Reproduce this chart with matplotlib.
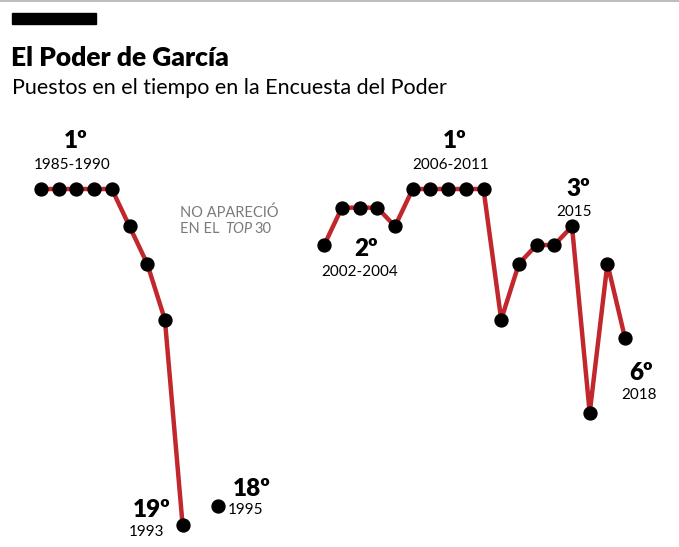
import matplotlib
matplotlib.use("Agg")
import matplotlib.pyplot as plt
from matplotlib.patches import Rectangle
from matplotlib.lines import Line2D

# Ranking of García in the "Encuesta del Poder" (1 = first place)
years_early = [1985, 1986, 1987, 1988, 1989, 1990, 1991, 1992, 1993]
rank_early = [1, 1, 1, 1, 1, 3, 5, 8, 19]
years_lone = [1995]
rank_lone = [18]
years_late = [2001, 2002, 2003, 2004, 2005, 2006, 2007, 2008, 2009, 2010,
              2011, 2012, 2013, 2014, 2015, 2016, 2017, 2018]
rank_late = [4, 2, 2, 2, 3, 1, 1, 1, 1, 1, 8, 5, 4, 4, 3, 13, 5, 9]

title = "El Poder de García"
subtitle = "Puestos en el tiempo en la Encuesta del Poder"

RED = "#c1272d"
GRAY = "#7a7a7a"
W, H = 679, 547

fig = plt.figure(figsize=(W / 100, H / 100), dpi=100)
ax = fig.add_axes([0, 0, 1, 1])
ax.set_axis_off()

# pixel mapping: x = 41 + (year-1985)*17.7 ; y = 189 + (rank-1)*18.67
xs, ys = 17.7, 18.67
ax.set_xlim(1985 - 41 / xs, 1985 + (W - 41) / xs)
ax.set_ylim(1 + (H - 189) / ys, 1 - 189 / ys)


def px(x, y):
    return x / W, 1 - y / H


line_kw = dict(color=RED, lw=3.2, marker="o", markersize=9.3,
               markerfacecolor="black", markeredgecolor="black", zorder=2)
ax.plot(years_early, rank_early, **line_kw)
ax.plot(years_late, rank_late, **line_kw)
ax.plot(years_lone, rank_lone, "o", color="black", markersize=9.3, zorder=3)

# header
fig.add_artist(Line2D([0, 1], [1 - 0.5 / H, 1 - 0.5 / H], color="#b0b0b0", lw=1.2))
x0, y0 = px(12, 24)
fig.add_artist(Rectangle((x0, y0), 84 / W, 11 / H, color="black"))
fig.text(*px(11, 66), title, fontsize=19, fontweight="heavy",
         family=["Lato"], va="baseline")
fig.text(*px(12, 94), subtitle, fontsize=15.5, fontweight="normal",
         family=["Lato"], va="baseline")

big = dict(fontsize=17.5, fontweight="heavy", family=["Lato"], ha="center", va="baseline")
small = dict(fontsize=11, fontweight="normal", family=["Lato"], ha="center", va="baseline")

labels = [
    ("1º", "1985-1990", 76, 72, 148, 169),
    ("1º", "2006-2011", 455, 451, 148, 169),
    ("2º", "2002-2004", 366, 360, 256, 276),
    ("3º", "2015", 578, 574, 196, 216),
    ("6º", "2018", 641, 639, 380, 399),
    ("19º", "1993", 152, 147, 517, 536),
    ("18º", "1995", 252, 246, 496, 514),
]
for rank_txt, yr_txt, xb, xsm, yb, ysm in labels:
    fig.text(*px(xb, yb), rank_txt, **big)
    fig.text(*px(xsm, ysm), yr_txt, **small)

txt = dict(fontsize=10.5, color=GRAY, family=["Lato"], va="baseline")
fig.text(*px(180, 217), "NO APARECIÓ", **txt)
fig.text(*px(180, 233), "EN EL ", **txt)
fig.text(*px(225, 233), "TOP", style="italic", **txt)
fig.text(*px(254, 233), "30", **txt)

fig.savefig("out.png", dpi=100)
